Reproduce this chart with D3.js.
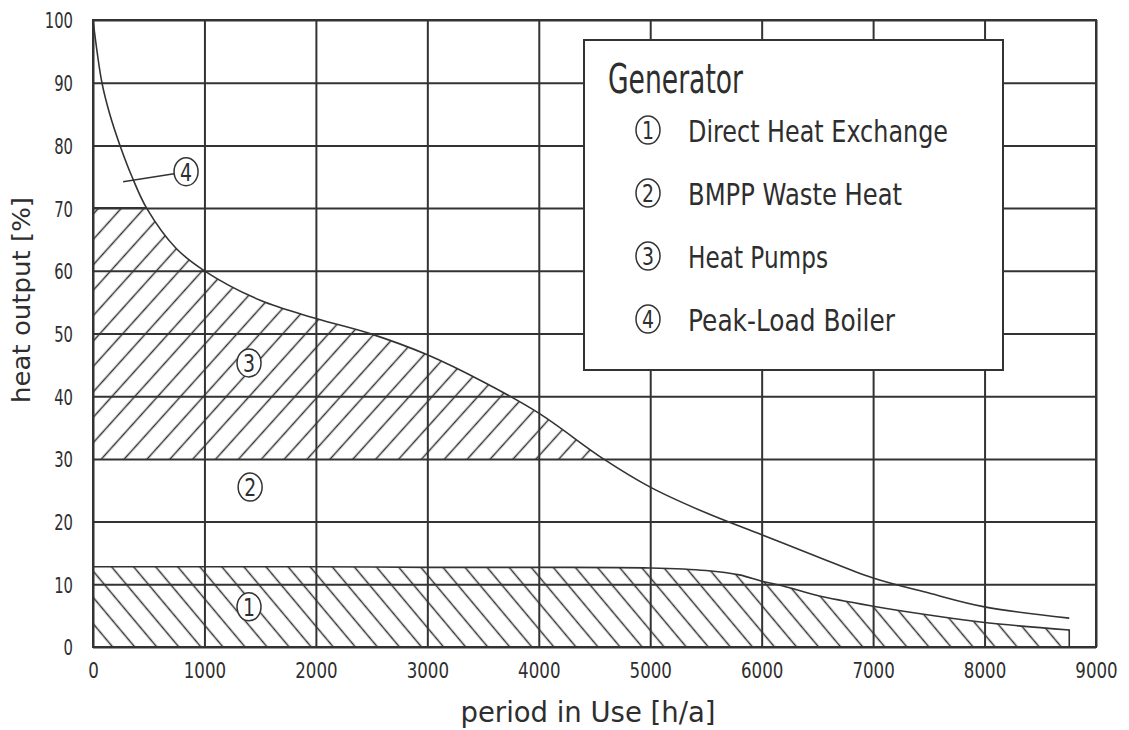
<!DOCTYPE html>
<html>
<head>
<meta charset="utf-8">
<script src="https://cdnjs.cloudflare.com/ajax/libs/d3/7.8.5/d3.min.js"></script>
<style>
  body { margin: 0; background: #fff; }
  svg text { font-family: "DejaVu Sans", sans-serif; fill: #2e2e2e; }
</style>
</head>
<body>
<svg id="chart" width="1129" height="730"></svg>
<script>
// load duration curve (total heat output)
var hours = [0, 80, 150, 242, 350, 481, 745, 1000, 1500, 2000, 2500, 3000, 3500, 4000, 4580, 5000, 5500, 6000, 6500, 7000, 7500, 8000, 8760];
var totalLoad = [100, 90, 85, 80, 75, 70, 63.6, 60, 55.3, 52.4, 49.9, 46.6, 42.3, 37.3, 30, 25.5, 21.4, 17.9, 14.4, 11.0, 8.6, 6.4, 4.6];

// direct heat exchange share (region 1)
var directHours = [0, 1000, 2000, 3000, 4000, 5000, 5500, 5800, 6000, 6200, 6500, 7000, 7500, 8000, 8760];
var directLoad = [12.8, 12.8, 12.8, 12.7, 12.7, 12.6, 12.2, 11.5, 10.5, 9.7, 8.2, 6.5, 5.1, 3.9, 2.7];

// heat pumps band (region 3)
var pumpBand = [30, 70];

var xTicks = d3.range(0, 9001, 1000);
var yTicks = d3.range(0, 101, 10);

var legendTitle = "Generator";
var legendNames = ["Direct Heat Exchange", "BMPP Waste Heat", "Heat Pumps", "Peak-Load Boiler"];
var legendWidths = [260, 214, 140, 207];

// circled numbers inside the plot (h/a, %)
var markerNums = ["1", "2", "3", "4"];
var markerHours = [1400, 1410, 1400, 835];
var markerLoad = [6.4, 25.5, 45.3, 75.8];
var leaderFrom = [270, 74.2];

var ink = "#333";

var svg = d3.select("#chart");
var x = d3.scaleLinear().domain([0, 9000]).range([93, 1096]);
var y = d3.scaleLinear().domain([0, 100]).range([647, 20]);

var defs = svg.append("defs");

function hatch(id, angle, gap) {
  defs.append("pattern")
    .attr("id", id)
    .attr("patternUnits", "userSpaceOnUse")
    .attr("width", gap).attr("height", gap)
    .attr("patternTransform", "rotate(" + angle + ")")
    .append("line")
    .attr("x1", gap / 2).attr("x2", gap / 2)
    .attr("y1", 0).attr("y2", gap)
    .attr("stroke", ink).attr("stroke-width", 1.5);
}
hatch("hatchFwd", 42, 17);
hatch("hatchBack", -40, 16.9);

var totalPts = hours.map(function(h, i) { return [h, totalLoad[i]]; });
var directPts = directHours.map(function(h, i) { return [h, directLoad[i]]; });

var smooth = d3.curveCatmullRom.alpha(0.5);
var area = d3.area()
  .x(function(d) { return x(d[0]); })
  .y0(y(0))
  .y1(function(d) { return y(d[1]); })
  .curve(smooth);
var line = d3.line()
  .x(function(d) { return x(d[0]); })
  .y(function(d) { return y(d[1]); })
  .curve(smooth);

defs.append("clipPath").attr("id", "band").append("rect")
  .attr("x", x(0)).attr("width", x(9000) - x(0))
  .attr("y", y(pumpBand[1])).attr("height", y(pumpBand[0]) - y(pumpBand[1]));
defs.append("clipPath").attr("id", "underTotal").append("path")
  .attr("d", area(totalPts));

// grid through the axes
var xAxis = svg.append("g")
  .attr("transform", "translate(0," + y(0) + ")")
  .call(d3.axisBottom(x).tickValues(xTicks).tickSize(-(y(0) - y(100))).tickSizeOuter(0).tickFormat(d3.format("d")));
xAxis.selectAll(".tick text")
  .attr("y", 15)
  .attr("font-size", 22)
  .attr("textLength", function(d) { return String(d).length * 10.6; })
  .attr("lengthAdjust", "spacingAndGlyphs");

var yAxis = svg.append("g")
  .attr("transform", "translate(" + x(0) + ",0)")
  .call(d3.axisLeft(y).tickValues(yTicks).tickSize(-(x(9000) - x(0))).tickSizeOuter(0).tickPadding(20).tickFormat(d3.format("d")));
yAxis.selectAll(".tick text")
  .attr("font-size", 22)
  .attr("dy", "0.36em")
  .attr("textLength", function(d) { return String(d).length * 9.4; })
  .attr("lengthAdjust", "spacingAndGlyphs");

svg.selectAll(".domain").remove();
svg.selectAll(".tick line").attr("stroke", ink).attr("stroke-width", 2);
svg.selectAll(".tick text").attr("fill", "#2e2e2e").attr("font-family", "DejaVu Sans, sans-serif");

// region 3: heat pumps
svg.append("path")
  .attr("d", area(totalPts))
  .attr("fill", "url(#hatchFwd)")
  .attr("clip-path", "url(#band)");
svg.append("line")
  .attr("x1", x(0)).attr("x2", x(9000))
  .attr("y1", y(pumpBand[1])).attr("y2", y(pumpBand[1]))
  .attr("stroke", ink).attr("stroke-width", 2)
  .attr("clip-path", "url(#underTotal)");

// region 1: direct heat exchange
svg.append("path")
  .attr("d", area(directPts))
  .attr("fill", "url(#hatchBack)");
svg.append("path")
  .attr("d", line(directPts) + "V" + y(0))
  .attr("fill", "none").attr("stroke", ink).attr("stroke-width", 1.6);

// total load curve
svg.append("path")
  .attr("d", line(totalPts))
  .attr("fill", "none").attr("stroke", ink).attr("stroke-width", 1.6);

function circled(g, cx, cy, num) {
  g.append("ellipse")
    .attr("cx", cx).attr("cy", cy).attr("rx", 12).attr("ry", 14)
    .attr("fill", "#fff").attr("stroke", ink).attr("stroke-width", 1.5);
  g.append("text")
    .attr("x", cx).attr("y", cy + 9)
    .attr("text-anchor", "middle")
    .attr("font-size", 25)
    .attr("textLength", 12).attr("lengthAdjust", "spacingAndGlyphs")
    .text(num);
}

var marks = svg.append("g");
marks.append("line")
  .attr("x1", x(leaderFrom[0])).attr("y1", y(leaderFrom[1]))
  .attr("x2", x(markerHours[3]) - 12).attr("y2", y(markerLoad[3]) + 2)
  .attr("stroke", ink).attr("stroke-width", 1.5);
markerNums.forEach(function(n, i) {
  circled(marks, x(markerHours[i]), y(markerLoad[i]), n);
});

// outer frame
svg.append("rect")
  .attr("x", x(0)).attr("y", y(100))
  .attr("width", x(9000) - x(0)).attr("height", y(0) - y(100))
  .attr("fill", "none").attr("stroke", ink).attr("stroke-width", 2);

// legend box
var legend = svg.append("g");
legend.append("rect")
  .attr("x", 584).attr("y", 40).attr("width", 419).attr("height", 330)
  .attr("fill", "#fff").attr("stroke", ink).attr("stroke-width", 2);
legend.append("text")
  .attr("x", 608).attr("y", 93)
  .attr("font-size", 40)
  .attr("textLength", 135).attr("lengthAdjust", "spacingAndGlyphs")
  .text(legendTitle);
legendNames.forEach(function(name, i) {
  var cy = 130 + i * 63;
  circled(legend, 648, cy, markerNums[i]);
  legend.append("text")
    .attr("x", 688).attr("y", cy + 12)
    .attr("font-size", 31)
    .attr("textLength", legendWidths[i]).attr("lengthAdjust", "spacingAndGlyphs")
    .text(name);
});

// axis titles
svg.append("text")
  .attr("transform", "translate(30,300) rotate(-90)")
  .attr("text-anchor", "middle")
  .attr("font-size", 24)
  .attr("textLength", 206).attr("lengthAdjust", "spacingAndGlyphs")
  .text("heat output [%]");
svg.append("text")
  .attr("x", 588).attr("y", 722)
  .attr("text-anchor", "middle")
  .attr("font-size", 29)
  .attr("textLength", 255).attr("lengthAdjust", "spacingAndGlyphs")
  .text("period in Use [h/a]");
</script>
</body>
</html>
